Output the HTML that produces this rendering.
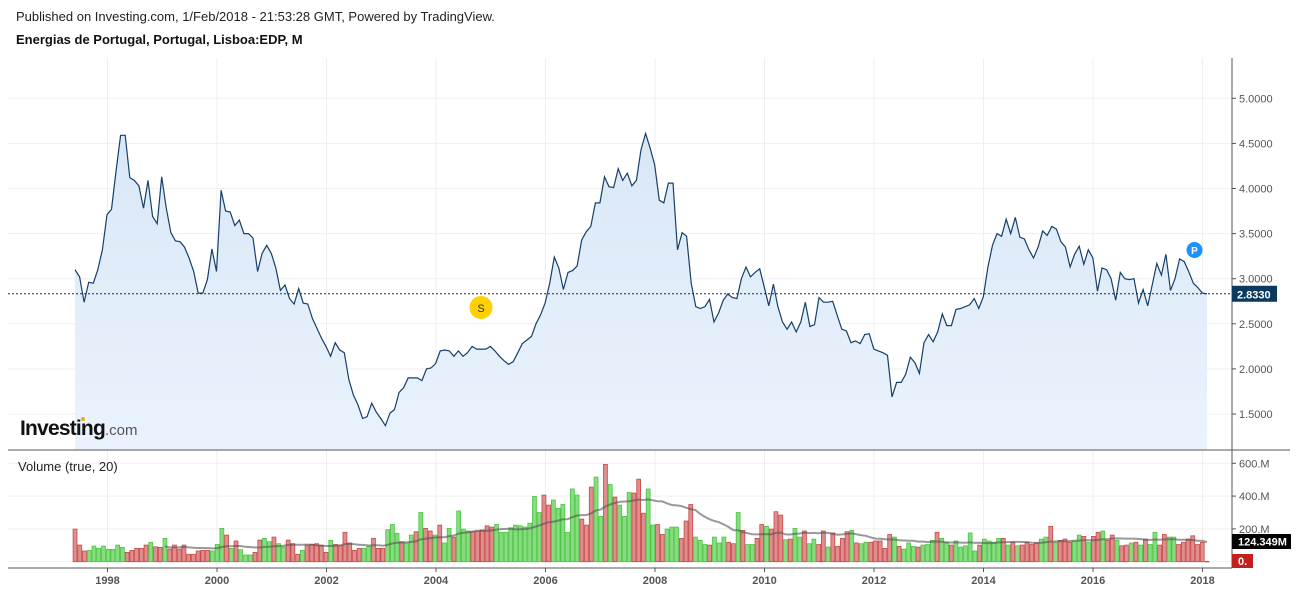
<!DOCTYPE html>
<html><head><meta charset="utf-8">
<style>
html,body{margin:0;padding:0;background:#fff;width:1299px;height:592px;overflow:hidden;font-family:"Liberation Sans",Arial,sans-serif;}
#hdr1{position:absolute;left:16px;top:9px;font-size:13px;color:#222;}
#hdr2{position:absolute;left:16px;top:32px;font-size:13px;font-weight:bold;color:#111;}
svg{position:absolute;left:0;top:0;}
</style></head>
<body>
<div id="hdr1">Published on Investing.com, 1/Feb/2018 - 21:53:28 GMT, Powered by TradingView.</div>
<div id="hdr2">Energias de Portugal, Portugal, Lisboa:EDP, M</div>
<svg id="chart" width="1299" height="592"></svg>
<script>
const priceValues = [3.10,3.02,2.74,2.96,2.95,3.10,3.32,3.71,3.77,4.20,4.59,4.59,4.12,4.09,4.03,3.78,4.09,3.69,3.61,4.13,3.78,3.51,3.42,3.41,3.35,3.23,3.08,2.84,2.84,2.99,3.33,3.08,3.98,3.75,3.74,3.59,3.65,3.50,3.50,3.45,3.08,3.28,3.37,3.28,3.12,2.87,2.93,2.78,2.72,2.89,2.73,2.72,2.56,2.45,2.34,2.25,2.14,2.29,2.21,2.18,1.88,1.71,
1.60,1.45,1.47,1.62,1.52,1.45,1.37,1.51,1.55,1.74,1.79,1.90,1.90,1.90,1.87,2.00,2.01,2.06,2.20,2.21,2.20,2.14,2.20,2.14,2.18,2.25,2.22,2.22,2.22,2.25,2.20,2.14,2.09,2.05,2.08,2.18,2.28,2.32,2.36,2.50,2.60,2.73,2.95,3.24,3.12,2.88,3.07,3.09,3.14,3.43,3.52,3.58,3.84,3.84,4.13,4.02,4.01,4.22,4.09,4.17,4.03,4.09,4.43,4.61,4.45,4.26,3.87,3.84,4.06,4.06,3.32,
3.51,3.47,2.95,2.69,2.67,2.69,2.77,2.52,2.62,2.76,2.83,2.79,2.78,3.00,3.13,3.02,3.07,3.11,2.91,2.70,2.94,2.69,2.52,2.44,2.52,2.41,2.52,2.74,2.47,2.49,2.79,2.74,2.74,2.75,2.59,2.44,2.42,2.29,2.31,2.28,2.38,2.39,2.22,2.20,2.18,2.15,1.69,1.85,1.85,1.94,2.13,2.07,1.95,2.29,2.38,2.30,2.41,2.61,2.48,2.48,2.66,2.67,
2.69,2.71,2.78,2.67,2.80,3.13,3.37,3.50,3.47,3.66,3.50,3.68,3.46,3.44,3.32,3.23,3.35,3.53,3.48,3.58,3.55,3.41,3.35,3.13,3.27,3.36,3.16,3.32,3.23,2.86,3.12,3.10,3.00,2.76,3.07,3.00,2.99,3.00,2.73,2.88,2.70,2.93,3.17,3.04,3.27,2.87,3.00,3.22,3.19,3.08,2.95,2.90,2.84,2.833];
const volumeValues = [199,101,65,69,95,81,95,75,75,101,87,57,69,81,81,101,118,91,87,142,77,101,77,101,45,45,65,69,69,65,105,203,162,81,126,73,41,41,57,132,142,122,150,110,89,132,110,45,69,101,105,110,101,57,130,105,97,179,114,69,81,81,93,142,81,81,195,227,173,122,114,162,183,300,
203,187,162,223,114,203,150,309,199,187,183,187,193,219,211,227,179,179,207,223,219,211,235,398,300,406,345,376,325,349,179,443,406,260,223,455,516,276,593,471,394,345,276,422,418,503,296,443,223,227,166,199,211,211,142,248,349,150,130,105,101,150,114,150,118,110,300,191,105,105,142,227,215,199,305,284,134,138,203,150,187,110,
138,105,187,89,175,93,142,183,191,114,110,118,118,126,126,81,166,150,93,77,114,93,89,101,105,130,179,142,118,101,126,89,97,175,65,101,138,126,118,142,142,101,118,97,101,118,105,114,138,150,215,118,130,138,118,126,162,154,118,154,179,187,130,162,130,97,101,114,118,101,138,105,179,101,166,150,150,105,118,138,158,105,118,2];
const volumeDirs = "rrrggggggggrrrrrgrrgrrrrrrrrrgggrgrgggrrggrggrrrgrrrrrgrrrrrrggrrrgggrggrg"+
"rrgrggrgggrrrrrggggggggggrrggggggrrrggrgrgggrrrggrrgggrrrgggrgggrrgrggrrgrrrgrggrg"+
"grrgrrrrgrggrrrrrgrgggrgggrggrgggggrggggrgrgrrrrggrgrrrggrgrrgrrgrrgrgrggrrggrrrrrr";
const priceTicks = [1.5,2.0,2.5,3.0,3.5,4.0,4.5,5.0];
const volumeTicks = [200,400,600];
const volumeTickLabels = ["200.M","400.M","600.M"];
const yearTicks = [1998,2000,2002,2004,2006,2008,2010,2012,2014,2016,2018];
const lastPrice = 2.833;
const lastVolumeMA = "124.349M";

const NS="http://www.w3.org/2000/svg";
const svg=document.getElementById('chart');
function mk(tag,attrs,parent){const e=document.createElementNS(NS,tag);for(const k in attrs)e.setAttribute(k,attrs[k]);(parent||svg).appendChild(e);return e;}
const L=8,R=1232,PT=58,PB=450,VB=568;
const X0=75,X1=1207;
const yP=v=>278.7-(v-3)*90.2;
const yV=v=>561.7-v/200*32.8;
const xYear=y=>107.5+(y-1998)*54.75;
const xP=i=>X0+i*(X1-X0)/(priceValues.length-1);
const xVol=i=>X0+i*(X1-X0)/(volumeValues.length-1);

// defs
const defs=mk('defs',{});
const lg=mk('linearGradient',{id:'fillg',x1:0,y1:0,x2:0,y2:1},defs);
mk('stop',{offset:'0','stop-color':'#d9e7f6'},lg);
mk('stop',{offset:'1','stop-color':'#eaf3fd'},lg);

// grid
const grid=mk('g',{});


yearTicks.forEach(y=>{const x=xYear(y);mk('line',{x1:x,x2:x,y1:PT,y2:VB,stroke:'#efefef'},grid);});
priceTicks.forEach(v=>mk('line',{x1:L,x2:R,y1:yP(v),y2:yP(v),stroke:'#efefef'},grid));
volumeTicks.concat([0]).forEach(v=>mk('line',{x1:L,x2:R,y1:yV(v),y2:yV(v),stroke:'#efefef'},grid));

// area + line
let d='';priceValues.forEach((v,i)=>{d+=(i?'L':'M')+xP(i).toFixed(1)+' '+yP(v).toFixed(1);});
const area=mk('path',{d:d+`L${xP(priceValues.length-1)} ${PB}L${X0} ${PB}Z`,fill:'url(#fillg)'});



// logo
const logo=mk('text',{x:20,y:435,'font-size':21,'font-weight':'bold',fill:'#111','font-family':'Liberation Sans, sans-serif','letter-spacing':'-0.8'});


logo.innerHTML='Investing<tspan font-size="15" font-weight="normal" fill="#555" letter-spacing="0">.com</tspan>';
mk('circle',{cx:83,cy:419,r:2,fill:'#f7a51c'});

const line=mk('path',{d:d,fill:'none',stroke:'#163f6b','stroke-width':1.2});



// last price dotted
const dl=mk('line',{x1:L,x2:R,y1:yP(lastPrice),y2:yP(lastPrice),stroke:'#0d2f52','stroke-dasharray':'2,2'});



// markers
const sm=mk('g',{});


mk('circle',{cx:481,cy:307.5,r:11.5,fill:'#ffd000'},sm);
mk('text',{x:481,y:312,'text-anchor':'middle','font-size':11,fill:'#333'},sm).textContent='S';
const pm=mk('g',{});


mk('circle',{cx:1194.5,cy:250,r:8,fill:'#1e90ff'},pm);
mk('text',{x:1194.5,y:254,'text-anchor':'middle','font-size':10,'font-weight':'bold',fill:'#fff'},pm).textContent='P';

// volume bars
const vb=mk('g',{});


const bw=(X1-X0)/(volumeValues.length-1)*0.82;
volumeValues.forEach((v,i)=>{
  const up=volumeDirs[i]==='g';
  const y=yV(v);
  const r=mk('rect',{x:(xVol(i)-bw/2).toFixed(1),y:y.toFixed(1),width:bw.toFixed(1),height:Math.max(0.5,yV(0)-y).toFixed(1),
    fill:up?'#86dc7e':'#df8d8d',stroke:up?'#4ec445':'#c94a4a','stroke-width':0.8},vb);
  
  
});
// volume MA 20
let md='';
for(let i=19;i<volumeValues.length;i++){let s=0;for(let k=i-19;k<=i;k++)s+=volumeValues[k];md+=(i>19?'L':'M')+xVol(i).toFixed(1)+' '+yV(s/20).toFixed(1);}
const ma=mk('path',{d:md,fill:'none',stroke:'#555','stroke-opacity':0.6,'stroke-width':2});



const vl=mk('text',{x:18,y:471,'font-size':13,fill:'#222'});


vl.textContent='Volume (true, 20)';

// axes lines
mk('line',{x1:L,x2:1290,y1:PB,y2:PB,stroke:'#555'});
mk('line',{x1:L,x2:R,y1:VB,y2:VB,stroke:'#555'});
const ya=mk('line',{x1:R,x2:R,y1:PT,y2:VB,stroke:'#555'});



priceTicks.forEach(v=>{
  mk('line',{x1:R,x2:R+4,y1:yP(v),y2:yP(v),stroke:'#555'});
  const t=mk('text',{x:1239,y:yP(v)+4,'font-size':11,fill:'#555'});
  
  
  t.textContent=v.toFixed(4);
});
volumeTicks.forEach((v,i)=>{
  mk('line',{x1:R,x2:R+4,y1:yV(v),y2:yV(v),stroke:'#555'});
  const t=mk('text',{x:1239,y:yV(v)+4,'font-size':11,fill:'#555'});
  
  
  t.textContent=volumeTickLabels[i];
});
yearTicks.forEach(y=>{
  const x=xYear(y);
  mk('line',{x1:x,x2:x,y1:VB,y2:VB+4,stroke:'#555'});
  const t=mk('text',{x:x,y:584,'font-size':11,'font-weight':'bold',fill:'#555','text-anchor':'middle'});
  
  
  t.textContent=y;
});

// value badges
const pb=mk('g',{});


mk('rect',{x:R,y:yP(lastPrice)-8,width:45,height:16,fill:'#0b3a5e'},pb);
mk('text',{x:R+5,y:yP(lastPrice)+4.5,'font-size':11,'font-weight':'bold',fill:'#fff'},pb).textContent=lastPrice.toFixed(4);
const vbdg=mk('g',{});


mk('rect',{x:R,y:534,width:59,height:15,fill:'#000'},vbdg);
mk('text',{x:R+6,y:545.5,'font-size':11,'font-weight':'bold',fill:'#fff'},vbdg).textContent=lastVolumeMA;
const zb=mk('g',{});


mk('rect',{x:R,y:554,width:21,height:14,fill:'#c41f1f'},zb);
mk('text',{x:R+6,y:565,'font-size':11,'font-weight':'bold',fill:'#fff'},zb).textContent='0.';
</script>
</body></html>
